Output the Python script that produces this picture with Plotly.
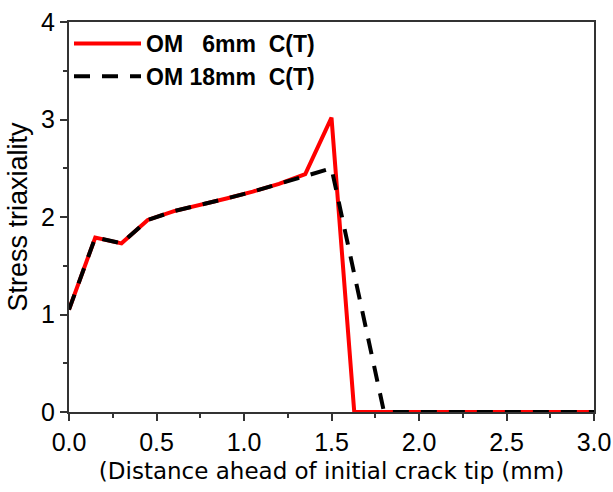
import plotly.graph_objects as go

x_6mm = [0.0, 0.15, 0.30, 0.45, 0.60, 0.75, 0.90, 1.05, 1.20, 1.35, 1.50, 1.63, 1.80, 2.0, 2.5, 3.0]
y_6mm = [1.05, 1.79, 1.73, 1.97, 2.06, 2.12, 2.19, 2.26, 2.34, 2.44, 3.02, 0.0, 0.0, 0.0, 0.0, 0.0]

x_18mm = [0.0, 0.15, 0.30, 0.45, 0.60, 0.75, 0.90, 1.05, 1.20, 1.35, 1.50, 1.80, 2.0, 2.5, 3.0]
y_18mm = [1.05, 1.79, 1.73, 1.97, 2.06, 2.12, 2.19, 2.26, 2.34, 2.43, 2.50, 0.0, 0.0, 0.0, 0.0]

x_ticks = [0, 0.5, 1.0, 1.5, 2.0, 2.5, 3.0]
x_ticktext = ["0.0", "0.5", "1.0", "1.5", "2.0", "2.5", "3.0"]
y_ticks = [0, 1, 2, 3, 4]

name_6mm = "OM   6mm  C(T)"
name_18mm = "OM 18mm  C(T)"

fig = go.Figure()
fig.add_trace(go.Scatter(x=x_6mm, y=y_6mm, mode="lines", name=name_6mm,
                         line=dict(color="#ff0000", width=4)))
fig.add_trace(go.Scatter(x=x_18mm, y=y_18mm, mode="lines", name=name_18mm,
                         line=dict(color="#000000", width=4, dash="16px,12px")))

tickfont = dict(family="Liberation Sans, Arial", size=25, color="black")
fig.update_layout(
    width=613, height=492,
    margin=dict(l=69, r=19, t=22, b=80),
    plot_bgcolor="white", paper_bgcolor="white",
    showlegend=True,
    legend=dict(x=0.0, y=1.0, xanchor="left", yanchor="top",
                bgcolor="rgba(0,0,0,0)",
                font=dict(family="Liberation Sans, Arial", size=23, color="black", weight="bold"),
                itemwidth=67, tracegroupgap=0),
    xaxis=dict(range=[0, 3.0], tickvals=x_ticks, ticktext=x_ticktext,
               automargin=False,
               ticks="outside", ticklen=7, tickwidth=1.5, tickcolor="#333",
               minor=dict(dtick=0.25, ticks="outside", ticklen=4, tickwidth=1.5, tickcolor="#333"),
               showline=True, linecolor="#333", linewidth=2, mirror=True,
               showgrid=False, zeroline=False,
               tickfont=tickfont,
               title=dict(text="(Distance ahead of initial crack tip (mm)",
                          font=dict(family="DejaVu Sans, Verdana", size=23, color="black"),
                          standoff=8)),
    yaxis=dict(range=[0, 4], tickvals=y_ticks,
               automargin=False,
               ticks="outside", ticklen=7, tickwidth=1.5, tickcolor="#333",
               minor=dict(dtick=0.5, ticks="outside", ticklen=4, tickwidth=1.5, tickcolor="#333"),
               showline=True, linecolor="#333", linewidth=2, mirror=True,
               showgrid=False, zeroline=False,
               tickfont=tickfont,
               title=dict(text="Stress triaxiality",
                          font=dict(family="Liberation Sans, Arial", size=27, color="black"),
                          standoff=6)),
)

fig.write_html("out.html")
